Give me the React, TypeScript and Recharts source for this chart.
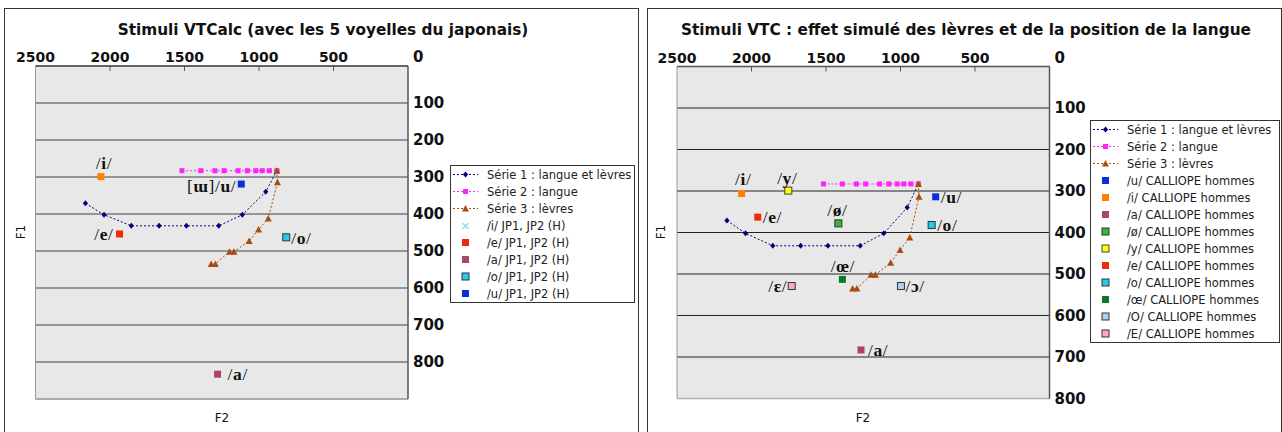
import { CartesianGrid, Legend, ReferenceLine, Scatter, ScatterChart, XAxis, YAxis } from 'recharts'

/* ---- data ---- */
const F2_TICKS = [0, 500, 1000, 1500, 2000, 2500]
const F1_TICKS_VTCALC = [0, 100, 200, 300, 400, 500, 600, 700, 800, 900]
const F1_TICKS_VTC = [0, 100, 200, 300, 400, 500, 600, 700, 800]

// Série 1 : langue et lèvres
const SERIE1_F2 = [2165, 2040, 1857, 1670, 1487, 1270, 1112, 955, 880]
const SERIE1_F1 = [371, 402, 432, 432, 432, 432, 402, 340, 283]
// Série 2 : langue
const SERIE2_F2 = [1517, 1390, 1296, 1234, 1140, 1078, 1022, 978, 930, 880]
const SERIE2_F1 = [283, 283, 283, 283, 283, 283, 283, 283, 283, 283]
// Série 3 : lèvres
const SERIE3_F2 = [880, 876, 938, 1003, 1066, 1168, 1198, 1293, 1321]
const SERIE3_F1 = [283, 314, 412, 442, 473, 502, 502, 535, 535]

// japanese vowels (JP1, JP2, hommes)
const JP_NAMES = ['/i/ JP1, JP2 (H)', '/e/ JP1, JP2 (H)', '/a/ JP1, JP2 (H)', '/o/ JP1, JP2 (H)', '/u/ JP1, JP2 (H)']
const JP_TAGS = ['/i/', '/e/', '/a/', '/o/', '[ɯ]/u/']
const JP_F2 = [2061, 1936, 1278, 817, 1119]
const JP_F1 = [299, 454, 833, 463, 319]

// CALLIOPE french vowels (hommes)
const CAL_NAMES = [
  '/u/ CALLIOPE hommes',
  '/i/ CALLIOPE hommes',
  '/a/ CALLIOPE hommes',
  '/ø/ CALLIOPE hommes',
  '/y/ CALLIOPE hommes',
  '/e/ CALLIOPE hommes',
  '/o/ CALLIOPE hommes',
  '/œ/ CALLIOPE hommes',
  '/O/ CALLIOPE hommes',
  '/E/ CALLIOPE hommes',
]
const CAL_TAGS = ['/u/', '/i/', '/a/', '/ø/', '/y/', '/e/', '/o/', '/œ/', '/ɔ/', '/ɛ/']
const CAL_F2 = [764, 2066, 1265, 1417, 1753, 1958, 791, 1390, 997, 1730]
const CAL_F1 = [314, 306, 683, 378, 299, 363, 382, 513, 529, 529]

/* ---- styles ---- */
const NAVY = '#000080'
const MAGENTA = '#ff22ff'
const BROWN = '#a84c10'
const PLOT_BG = '#e8e8e8'
const INK = '#111'
const SANS = 'DejaVu Sans, Verdana, sans-serif'
const SERIF = 'Liberation Serif, Times New Roman, serif'

type Mark = { fill: string; stroke?: string; cross?: boolean }
type Place = { anchor: 'start' | 'middle' | 'end'; dx: number; dy: number }

const JP_MARKS: Mark[] = [
  { fill: '#ff8000' },
  { fill: '#ee2a0c' },
  { fill: '#a8456f' },
  { fill: '#22ccee', stroke: '#333' },
  { fill: '#0a2fd8' },
]
const JP_PLACES: Place[] = [
  { anchor: 'middle', dx: 3, dy: -14 },
  { anchor: 'end', dx: -6, dy: 0 },
  { anchor: 'start', dx: 10, dy: 0 },
  { anchor: 'start', dx: 5, dy: 1 },
  { anchor: 'end', dx: -5, dy: 2 },
]
const CAL_MARKS: Mark[] = [
  { fill: '#0a2fd8' },
  { fill: '#ff8000' },
  { fill: '#a8456f' },
  { fill: '#33bb33', stroke: '#333' },
  { fill: '#ffff00', stroke: '#444' },
  { fill: '#ee2a0c' },
  { fill: '#22ccee', stroke: '#333' },
  { fill: '#0a7a25' },
  { fill: '#a8d0f8', stroke: '#333' },
  { fill: '#ffa8cc', stroke: '#333' },
]
const CAL_PLACES: Place[] = [
  { anchor: 'start', dx: 5, dy: 0 },
  { anchor: 'middle', dx: 1.5, dy: -14 },
  { anchor: 'start', dx: 7, dy: 0 },
  { anchor: 'middle', dx: -1, dy: -13 },
  { anchor: 'middle', dx: -1, dy: -13 },
  { anchor: 'start', dx: 5, dy: 0 },
  { anchor: 'start', dx: 5.5, dy: 0 },
  { anchor: 'middle', dx: 0.5, dy: -13.5 },
  { anchor: 'start', dx: 4.5, dy: 0 },
  { anchor: 'end', dx: -4.5, dy: 0 },
]

/* ---- marker shapes ---- */
function Diamond({ cx, cy, fill = NAVY }: any) {
  return <polygon points={`${cx},${cy - 3} ${cx + 2.6},${cy} ${cx},${cy + 3} ${cx - 2.6},${cy}`} fill={fill} />
}
function Square({ cx, cy, fill = MAGENTA, size = 5, stroke }: any) {
  const h = size / 2
  return (
    <rect x={cx - h} y={cy - h} width={size} height={size} fill={fill} stroke={stroke} strokeWidth={stroke ? 1 : 0} />
  )
}
function Triangle({ cx, cy, fill = BROWN }: any) {
  return <polygon points={`${cx},${cy - 3.5} ${cx + 3.5},${cy + 3} ${cx - 3.5},${cy + 3}`} fill={fill} />
}

function VowelTag({ x, y, tag, anchor }: { x: number; y: number; tag: string; anchor: Place['anchor'] }) {
  return (
    <text
      x={x}
      y={y}
      textAnchor={anchor}
      dominantBaseline="central"
      fontFamily={SERIF}
      fontSize={17.5}
      letterSpacing={0.6}
      fill={INK}
    >
      {tag.split('').map((ch, i) => (
        <tspan key={i} fontWeight={'/[]'.includes(ch) ? 400 : 700}>
          {ch}
        </tspan>
      ))}
    </text>
  )
}

function vowelShape(tag: string, mark: Mark, place: Place) {
  return (p: any) => (
    <g>
      <Square cx={p.cx} cy={p.cy} size={7} fill={mark.fill} stroke={mark.stroke} />
      <VowelTag x={p.cx + place.dx} y={p.cy + place.dy} tag={tag} anchor={place.anchor} />
    </g>
  )
}

/* ---- legend ---- */
type Row = { name: string; kind: 'diamond' | 'square' | 'triangle' | 'mark'; color?: string; mark?: Mark }

const SERIES_ROWS: Row[] = [
  { name: 'Série 1 : langue et lèvres', kind: 'diamond', color: NAVY },
  { name: 'Série 2 : langue', kind: 'square', color: MAGENTA },
  { name: 'Série 3 : lèvres', kind: 'triangle', color: BROWN },
]

function LegendIcon({ row }: { row: Row }) {
  if (row.kind === 'mark') {
    const m = row.mark as Mark
    if (m.cross)
      return (
        <svg width={34} height={17}>
          <path d="M11.5,6 L17.5,12 M17.5,6 L11.5,12" stroke={m.fill} strokeWidth={1.3} />
        </svg>
      )
    return (
      <svg width={34} height={17}>
        <Square cx={14.5} cy={8.5} size={7} fill={m.fill} stroke={m.stroke} />
      </svg>
    )
  }
  return (
    <svg width={34} height={17}>
      <line x1={2} x2={27} y1={8.5} y2={8.5} stroke={row.color} strokeDasharray="2 2" />
      {row.kind === 'diamond' && <Diamond cx={14.5} cy={8.5} />}
      {row.kind === 'square' && <Square cx={14.5} cy={8.5} />}
      {row.kind === 'triangle' && <Triangle cx={14.5} cy={8.5} />}
    </svg>
  )
}

function LegendBox({ rows, width }: { rows: Row[]; width: number }) {
  return (
    <div style={{ width, border: '1px solid #333', background: '#fff', boxSizing: 'border-box' }}>
      {rows.map((r) => (
        <div key={r.name} style={{ display: 'flex', alignItems: 'center', height: 17 }}>
          <LegendIcon row={r} />
          <span style={{ fontFamily: SANS, fontSize: 11.5, color: '#222', whiteSpace: 'nowrap', marginLeft: 2 }}>
            {r.name}
          </span>
        </div>
      ))}
    </div>
  )
}

/* ---- axis ticks ---- */
function F2Tick({ x, y, payload }: any) {
  const v = payload.value
  return (
    <g>
      {v !== 0 && v !== 2500 && <line x1={x} x2={x} y1={y} y2={y + 5} stroke="#555" />}
      {v !== 0 && (
        <text x={x} y={y - 9} textAnchor="middle" dominantBaseline="central" fontFamily={SANS} fontWeight={700} fontSize={14} fill={INK}>
          {v}
        </text>
      )}
    </g>
  )
}

function F1Tick({ x, y, payload }: any) {
  const v = payload.value
  if (v === 900) return <g />
  return (
    <text x={x + 5} y={v === 0 ? y - 9 : y} dominantBaseline="central" fontFamily={SANS} fontWeight={700} fontSize={15} fill={INK}>
      {v}
    </text>
  )
}

/* ---- one formant chart ---- */
type ChartProps = {
  f1Ticks: number[]
  names: string[]
  tags: string[]
  f2: number[]
  f1: number[]
  marks: Mark[]
  places: Place[]
  legendMarks: Mark[]
  margin: { top: number; right: number; bottom: number; left: number }
  gridStroke: string
  gridWidth: number
  legendTop: number
  legendWidth: number
}

function FormantChart(p: ChartProps) {
  const s1 = SERIE1_F2.map((f2, i) => ({ f2, f1: SERIE1_F1[i] }))
  const s2 = SERIE2_F2.map((f2, i) => ({ f2, f1: SERIE2_F1[i] }))
  const s3 = SERIE3_F2.map((f2, i) => ({ f2, f1: SERIE3_F1[i] }))
  const f1Max = p.f1Ticks[p.f1Ticks.length - 1]
  const rows: Row[] = [
    ...SERIES_ROWS,
    ...p.names.map((name, i) => ({ name, kind: 'mark' as const, mark: p.legendMarks[i] })),
  ]
  const dotted = (stroke: string) => ({ stroke, strokeWidth: 1, strokeDasharray: '2 2' })
  return (
    <ScatterChart width={640} height={432} margin={p.margin}>
      <CartesianGrid vertical={false} fill={PLOT_BG} fillOpacity={1} stroke={p.gridStroke} strokeWidth={p.gridWidth} />
      <ReferenceLine x={2500} stroke="#999" />
      <ReferenceLine y={f1Max} stroke="#b0b0b0" strokeWidth={1.5} />
      <XAxis
        type="number"
        dataKey="f2"
        orientation="top"
        domain={[0, 2500]}
        reversed
        ticks={F2_TICKS}
        interval={0}
        height={30}
        tickSize={0}
        tickMargin={0}
        tick={(t: any) => <F2Tick {...t} />}
        axisLine={{ stroke: '#555', strokeWidth: 1.5 }}
        allowDataOverflow
      />
      <YAxis
        type="number"
        dataKey="f1"
        orientation="right"
        domain={[0, f1Max]}
        reversed
        ticks={p.f1Ticks}
        interval={0}
        width={40}
        tickSize={0}
        tickMargin={0}
        tick={(t: any) => <F1Tick {...t} />}
        axisLine={{ stroke: '#555', strokeWidth: 1.5 }}
        allowDataOverflow
      />
      <Legend
        layout="vertical"
        align="center"
        verticalAlign="middle"
        wrapperStyle={{ left: 450, top: p.legendTop, width: p.legendWidth }}
        content={() => <LegendBox rows={rows} width={p.legendWidth} />}
      />
      <Scatter data={s1} line={dotted(NAVY)} shape={(d: any) => <Diamond cx={d.cx} cy={d.cy} />} isAnimationActive={false} />
      <Scatter data={s2} line={dotted(MAGENTA)} shape={(d: any) => <Square cx={d.cx} cy={d.cy} />} isAnimationActive={false} />
      <Scatter data={s3} line={dotted(BROWN)} shape={(d: any) => <Triangle cx={d.cx} cy={d.cy} />} isAnimationActive={false} />
      {p.tags.map((tag, i) => (
        <Scatter
          key={tag + i}
          data={[{ f2: p.f2[i], f1: p.f1[i] }]}
          shape={vowelShape(tag, p.marks[i], p.places[i])}
          isAnimationActive={false}
        />
      ))}
    </ScatterChart>
  )
}

function Panel({ left, title, titleX, f1X, f2X, children }: any) {
  return (
    <>
      <div
        style={{
          position: 'absolute',
          left,
          top: 8,
          width: 635,
          height: 440,
          border: '1px solid #333',
          boxSizing: 'border-box',
        }}
      />
      <div
        style={{
          position: 'absolute',
          left: titleX - 320,
          width: 640,
          top: 21,
          lineHeight: '18px',
          textAlign: 'center',
          fontFamily: SANS,
          fontWeight: 700,
          fontSize: 15.3,
          color: INK,
          whiteSpace: 'nowrap',
        }}
      >
        {title}
      </div>
      <div
        style={{
          position: 'absolute',
          left: f1X - 20,
          top: 224,
          width: 40,
          lineHeight: '16px',
          textAlign: 'center',
          transform: 'rotate(-90deg)',
          fontFamily: SANS,
          fontSize: 12,
          color: INK,
        }}
      >
        F1
      </div>
      <div
        style={{
          position: 'absolute',
          left: f2X - 20,
          top: 410,
          width: 40,
          lineHeight: '16px',
          textAlign: 'center',
          fontFamily: SANS,
          fontSize: 12,
          color: INK,
        }}
      >
        F2
      </div>
      {children}
    </>
  )
}

export default function App() {
  return (
    <div style={{ position: 'absolute', left: 0, top: 0, width: 1282, height: 432, background: '#fff', overflow: 'hidden' }}>
      <Panel left={4} title="Stimuli VTCalc (avec les 5 voyelles du japonais)" titleX={323} f1X={21} f2X={222}>
        <div style={{ position: 'absolute', left: 0, top: 0 }}>
          <FormantChart
            f1Ticks={F1_TICKS_VTCALC}
            names={JP_NAMES}
            tags={JP_TAGS}
            f2={JP_F2}
            f1={JP_F1}
            marks={JP_MARKS}
            places={JP_PLACES}
            legendMarks={[{ fill: '#8fd8e8', cross: true }, ...JP_MARKS.slice(1)]}
            margin={{ top: 36, right: 192, bottom: 33, left: 35.5 }}
            gridStroke="#7a7a7a"
            gridWidth={1.6}
            legendTop={165}
            legendWidth={185}
          />
        </div>
      </Panel>
      <Panel left={647} title="Stimuli VTC : effet simulé des lèvres et de la position de la langue" titleX={966} f1X={661} f2X={863}>
        <div style={{ position: 'absolute', left: 640, top: 0 }}>
          <FormantChart
            f1Ticks={F1_TICKS_VTC}
            names={CAL_NAMES}
            tags={CAL_TAGS}
            f2={CAL_F2}
            f1={CAL_F1}
            marks={CAL_MARKS}
            places={CAL_PLACES}
            legendMarks={CAL_MARKS}
            margin={{ top: 36.5, right: 190.5, bottom: 33.5, left: 37 }}
            gridStroke="#222"
            gridWidth={1}
            legendTop={120}
            legendWidth={190}
          />
        </div>
      </Panel>
    </div>
  )
}
